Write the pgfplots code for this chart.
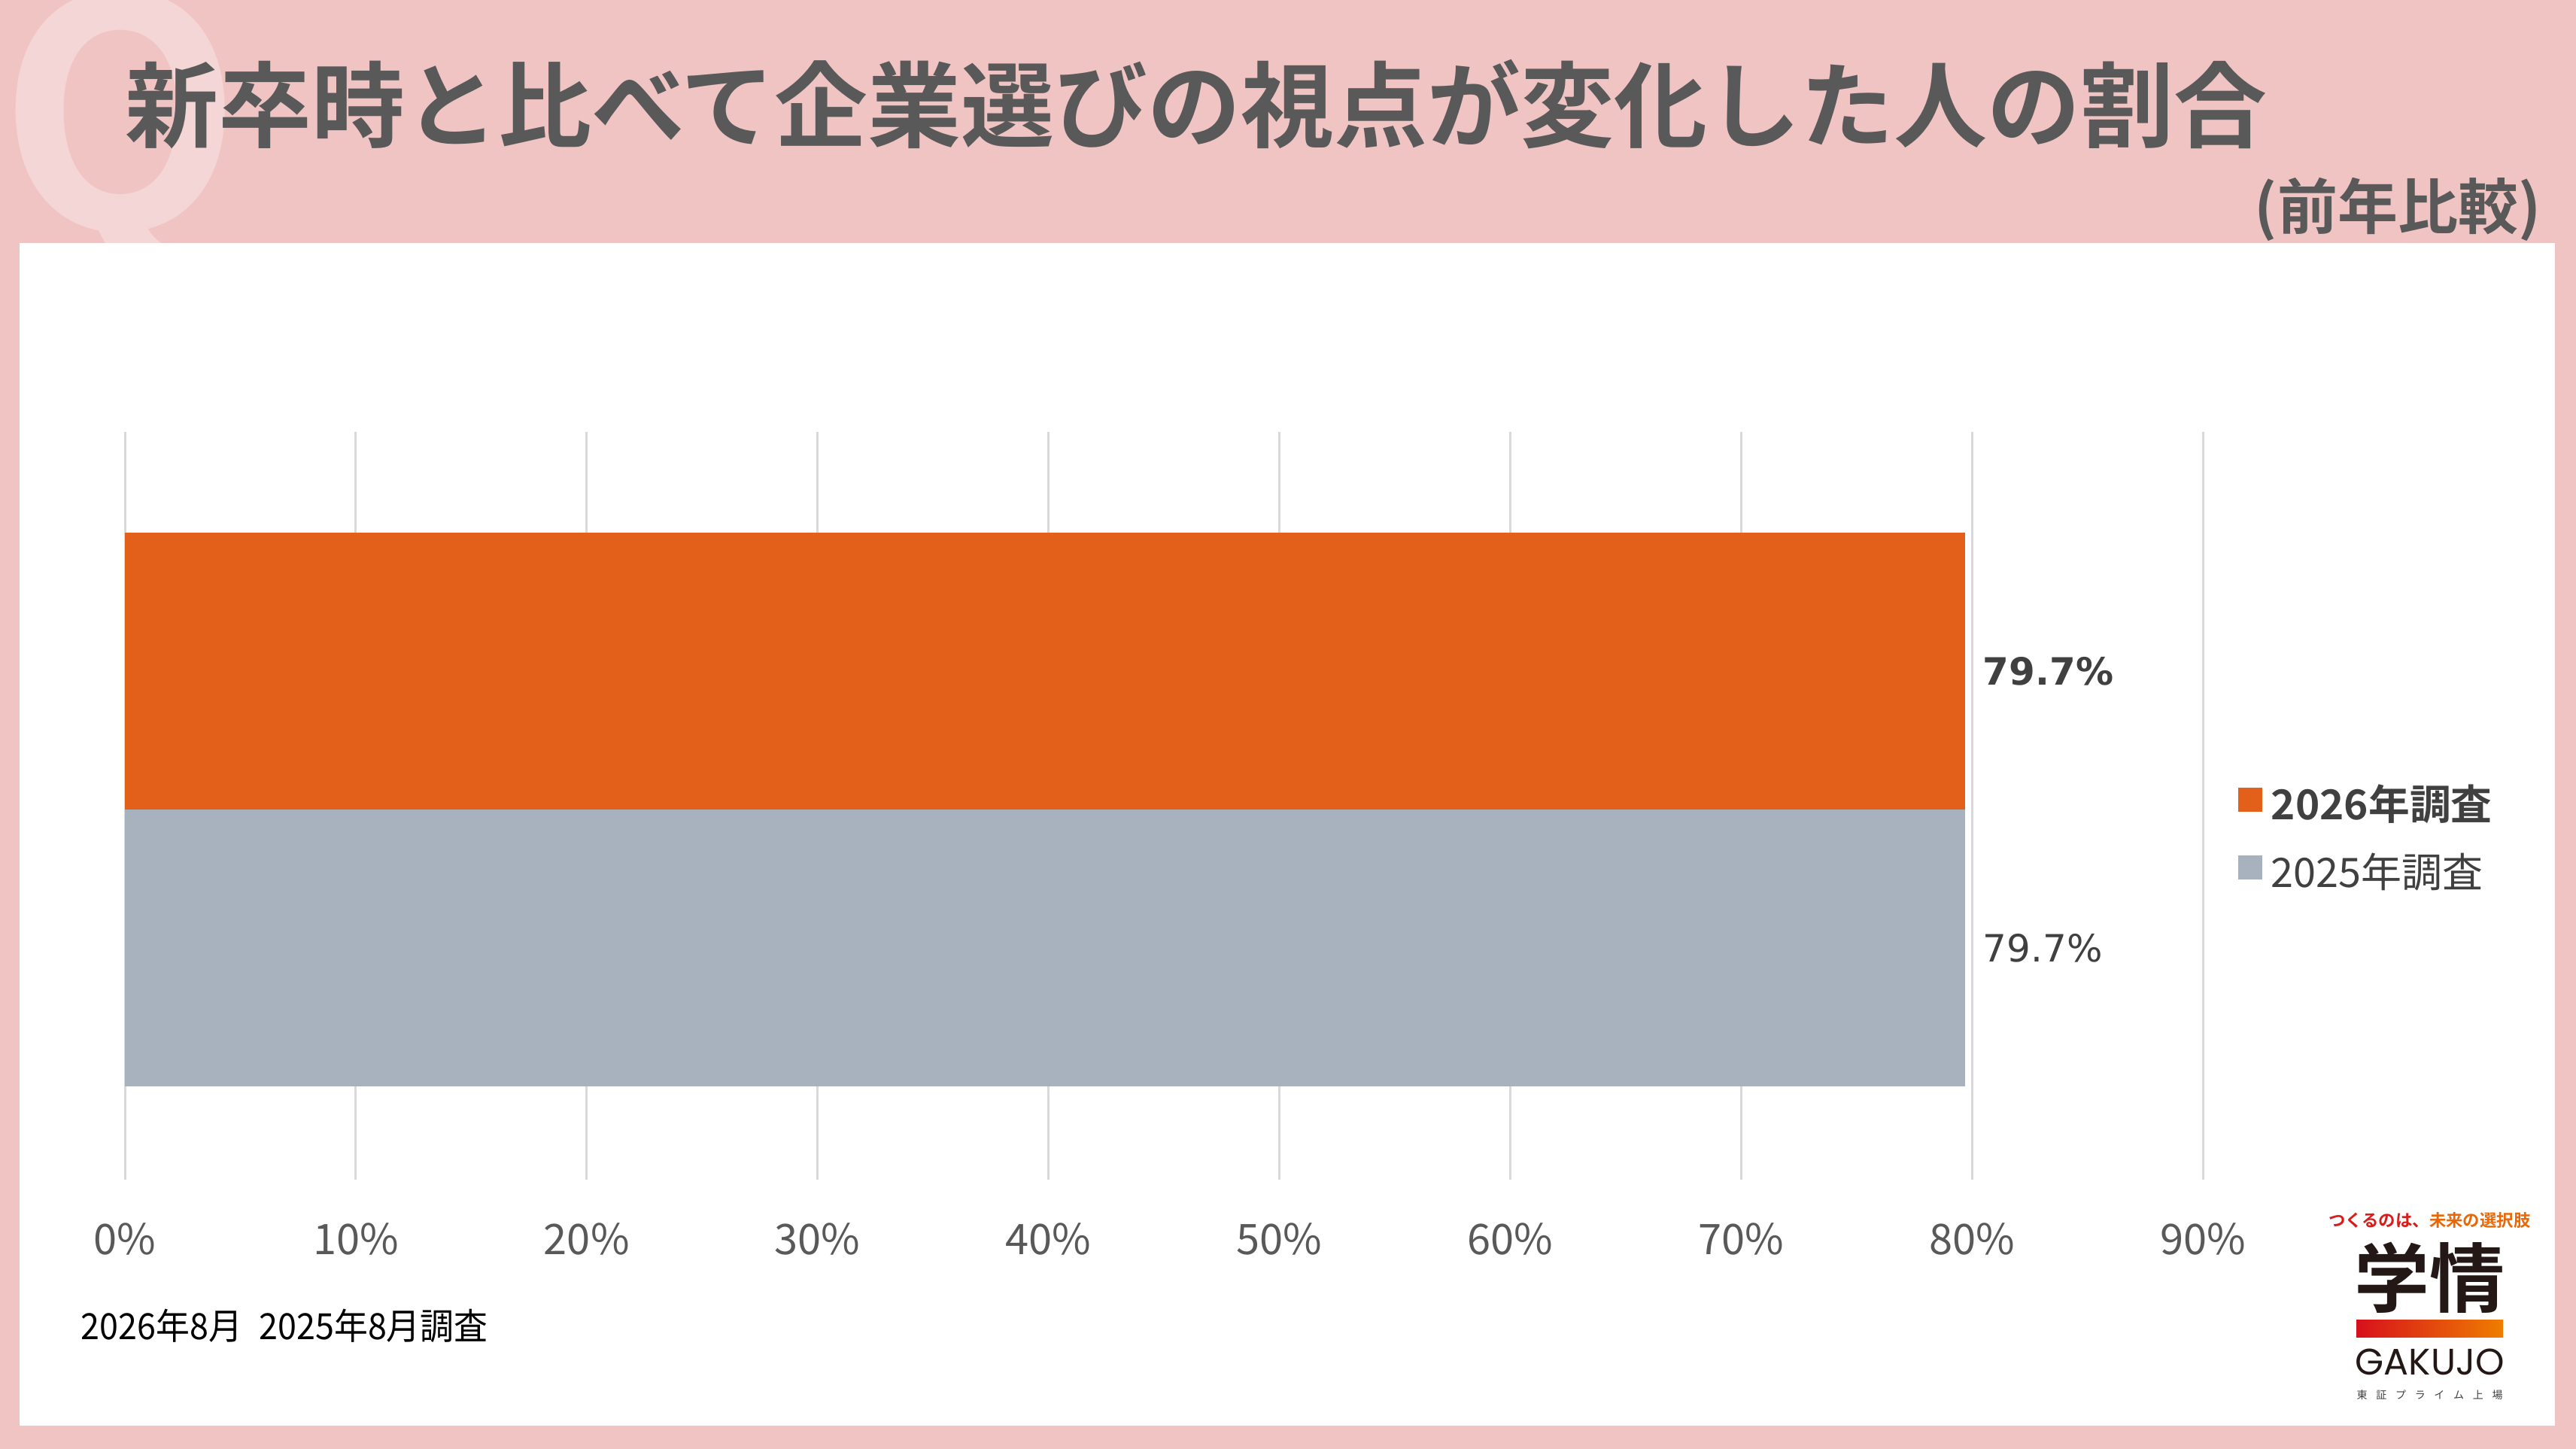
\documentclass[border=0pt]{standalone}
\usepackage{pgfplots}
\pgfplotsset{compat=1.18}
\usepackage{fontspec}
\setmainfont{Noto Sans CJK JP}[BoldFont={Noto Sans CJK JP Bold}]
\newfontfamily\dejavu{DejaVu Sans}
\newfontfamily\poppins{Poppins}

\definecolor{bgpink}{HTML}{F1C4C4}
\definecolor{qpink}{HTML}{F5D6D6}
\definecolor{titlegray}{HTML}{595959}
\definecolor{barorange}{HTML}{E2601A}
\definecolor{bargray}{HTML}{A8B2BE}
\definecolor{gridgray}{HTML}{D9D9D9}
\definecolor{labeldark}{HTML}{404040}
\definecolor{ticktext}{HTML}{595959}
\definecolor{logored}{HTML}{D7101C}
\definecolor{logoorange}{HTML}{EF7D00}
\definecolor{logoblack}{HTML}{231815}

\begin{document}
\begin{tikzpicture}
\useasboundingbox (0,0) rectangle (856pt,481.5pt);
\fill[bgpink] (0,0) rectangle (856pt,481.5pt);
\begin{scope}
\clip (0,0) rectangle (856pt,481.5pt);
\node[qpink, inner sep=0pt, anchor=base] at (40pt,405.5pt) {\bfseries\fontsize{105}{105}\selectfont Q};
\end{scope}
\fill[white] (6.5pt,7.75pt) rectangle (849pt,400.75pt);

% title
\node[anchor=west, inner sep=0pt, text=titlegray] at (41.5pt,446.75pt)
  {\bfseries\fontsize{31}{31}\selectfont 新卒時と比べて企業選びの視点が変化した人の割合};
\node[anchor=east, inner sep=0pt, text=titlegray] at (844.5pt,412pt)
  {\bfseries\fontsize{20}{20}\selectfont (前年比較)};

\begin{axis}[
  at={(41.5pt,89.5pt)}, anchor=south west,
  scale only axis, width=690.5pt, height=248.5pt,
  xmin=0, xmax=90, ymin=0, ymax=1,
  clip=false,
  axis line style={draw=none},
  xtick={0,10,20,30,40,50,60,70,80,90},
  xticklabels={0\%,10\%,20\%,30\%,40\%,50\%,60\%,70\%,80\%,90\%},
  ytick=\empty,
  major tick length=0pt,
  xmajorgrids,
  grid style={gridgray, line width=0.75pt},
  xticklabel style={font=\fontsize{14}{16}\selectfont, text=ticktext, inner sep=0pt, anchor=center, yshift=-19.75pt},
  legend style={at={(1.0170,0.538)}, anchor=north west, draw=none, fill=none,
    inner sep=0pt, outer sep=0pt, row sep=0pt, column sep=3pt,
    nodes={inner sep=0pt, text height=14pt, text depth=8.5pt, text=labeldark}},
  legend cell align=left,
]
\addplot[xbar, bar shift=0pt, bar width=0.3702, fill=barorange, draw=none,
  point meta=x,
  nodes near coords={\dejavu\bfseries\pgfmathprintnumber[fixed,fixed zerofill,precision=1,assume math mode=true]{\pgfplotspointmeta}\%},
  nodes near coords style={anchor=west, inner sep=0pt, xshift=5.75pt, text=labeldark, font=\fontsize{12.5}{14}\selectfont},
  legend image code/.code={\fill[barorange] (0pt,-0.3pt) rectangle (8pt,7.7pt);}]
  coordinates {(79.7,0.680)};
\addlegendentry{\bfseries\fontsize{13.7}{16}\selectfont 2026年調査}
\addplot[xbar, bar shift=0pt, bar width=0.3702, fill=bargray, draw=none,
  point meta=x,
  nodes near coords={\dejavu\pgfmathprintnumber[fixed,fixed zerofill,precision=1,assume math mode=true]{\pgfplotspointmeta}\%},
  nodes near coords style={anchor=west, inner sep=0pt, xshift=5.75pt, text=labeldark, font=\fontsize{12.5}{14}\selectfont},
  legend image code/.code={\fill[bargray] (0pt,-0.3pt) rectangle (8pt,7.7pt);}]
  coordinates {(79.7,0.310)};
\addlegendentry{\fontsize{13.5}{16}\selectfont 2025年調査}
\end{axis}

% note
\node[anchor=west, inner sep=0pt, text=black] at (26.75pt,41pt)
  {\scalebox{0.935}[1]{\fontsize{12}{14}\selectfont 2026年8月\hspace{6pt}2025年8月調査}};

% logo
\node[anchor=center, inner sep=0pt] at (807.3pt,76pt)
  {\bfseries\fontsize{5.6}{6}\selectfont\textcolor{logored!90!logoorange}{つくるのは、}\textcolor{logoorange!80!logored}{未来の選択肢}};
\node[anchor=center, inner sep=0pt, text=logoblack] at (807.4pt,57pt)
  {\bfseries\fontsize{25}{25}\selectfont 学情};
\shade[left color=logored, right color=logoorange] (783pt,37pt) rectangle (831.75pt,42.75pt);
\node[anchor=center, inner sep=0pt, text=logoblack] at (807.4pt,28.9pt)
  {\poppins\fontsize{12.25}{13}\selectfont GAKUJO};
\node[anchor=center, inner sep=0pt, text=labeldark] at (807.4pt,18pt)
  {\fontsize{3.5}{4}\selectfont\makebox[48.5pt][s]{東\hfill 証\hfill プ\hfill ラ\hfill イ\hfill ム\hfill 上\hfill 場}};
\end{tikzpicture}
\end{document}
